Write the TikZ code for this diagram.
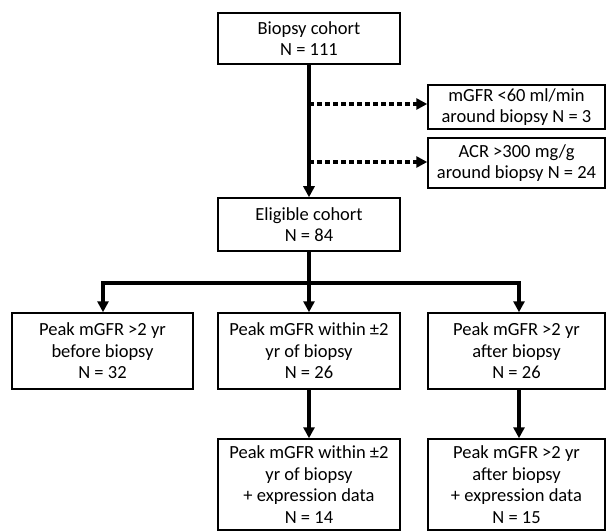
\documentclass[tikz,border=0pt]{standalone}
\usepackage{fontspec}
\setmainfont{Carlito}
\usetikzlibrary{arrows.meta}
\tikzset{
  box/.style={draw=black, line width=1.5pt, rectangle, align=center, inner sep=0pt,
    font=\fontsize{18.5}{21.5}\selectfont, text=black},
  conn/.style={line width=3.5pt, -{Triangle[length=11pt,width=11pt]}},
  line/.style={line width=3.5pt},
  dots/.style={line width=3.5pt, dash pattern=on 5pt off 3pt, -{Triangle[length=11pt,width=11pt]}}
}
\begin{document}
\begin{tikzpicture}[x=1pt,y=-1pt]
\useasboundingbox (0,0) rectangle (608,532);
\node[box, minimum width=182pt, minimum height=51pt] (bc) at (309,38.5) {Biopsy cohort\\N = 111};
\node[box, minimum width=177pt, minimum height=44pt] (ex1) at (516.5,107) {mGFR <60 ml/min\\around biopsy N = 3};
\node[box, minimum width=177pt, minimum height=50pt] (ex2) at (516.5,163) {ACR >300 mg/g\\around biopsy N = 24};
\node[box, minimum width=182pt, minimum height=53pt] (ec) at (309,224.5) {Eligible cohort\\N = 84};
\node[box, minimum width=181pt, minimum height=76pt] (r1) at (102.5,351) {Peak mGFR >2 yr\\before biopsy\\N = 32};
\node[box, minimum width=182pt, minimum height=76pt] (r2) at (309,351) {Peak mGFR within ±2\\yr of biopsy\\N = 26};
\node[box, minimum width=177pt, minimum height=76pt] (r3) at (516.5,351) {Peak mGFR >2 yr\\after biopsy\\N = 26};
\node[box, minimum width=182pt, minimum height=91pt] (b2) at (309,484.5) {Peak mGFR within ±2\\yr of biopsy\\+ expression data\\N = 14};
\node[box, minimum width=177pt, minimum height=91pt] (b3) at (516.5,484.5) {Peak mGFR >2 yr\\after biopsy\\+ expression data\\N = 15};
\coordinate (d1) at (309,104);
\coordinate (d2) at (309,162);
\coordinate (hub) at (309,283);
\coordinate (hl) at (103,283);
\coordinate (hr) at (519,283);
\draw[conn] (bc.south) -- (ec.north);
\draw[dots] (d1) -- (d1 -| ex1.west);
\draw[dots] (d2) -- (d2 -| ex2.west);
\draw[line] (ec.south) -- (hub);
\draw[line, line cap=rect] (hl) -- (hr);
\draw[conn] (hl) -- (hl |- r1.north);
\draw[conn] (hub) -- (r2.north);
\draw[conn] (hr) -- (hr |- r3.north);
\draw[conn] (r2.south) -- (b2.north);
\draw[conn] (r3.south -| hr) -- (b3.north -| hr);
\end{tikzpicture}
\end{document}
